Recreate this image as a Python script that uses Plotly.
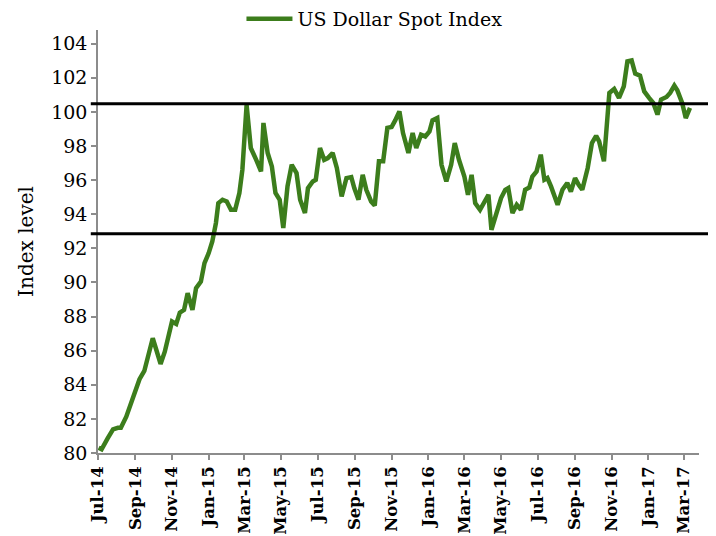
import plotly.graph_objects as go

# weekly-ish readings of the US Dollar Spot Index
dates = [
    "2014-07-02", "2014-07-07", "2014-07-17", "2014-07-26", "2014-08-03", "2014-08-08",
    "2014-08-17", "2014-08-25", "2014-09-01", "2014-09-08", "2014-09-16", "2014-09-23",
    "2014-09-30", "2014-10-06", "2014-10-13", "2014-10-20", "2014-10-27", "2014-11-01",
    "2014-11-08", "2014-11-14", "2014-11-21", "2014-11-27", "2014-12-05", "2014-12-11",
    "2014-12-19", "2014-12-25", "2015-01-01", "2015-01-07", "2015-01-13", "2015-01-17",
    "2015-01-24", "2015-01-31", "2015-02-07", "2015-02-14", "2015-02-21", "2015-02-26",
    "2015-03-05", "2015-03-12", "2015-03-21", "2015-03-29", "2015-04-02", "2015-04-09",
    "2015-04-16", "2015-04-22", "2015-04-29", "2015-05-05", "2015-05-12", "2015-05-19",
    "2015-05-27", "2015-06-02", "2015-06-10", "2015-06-15", "2015-06-23", "2015-06-28",
    "2015-07-05", "2015-07-12", "2015-07-18", "2015-07-26", "2015-08-02", "2015-08-10",
    "2015-08-18", "2015-08-26", "2015-08-31", "2015-09-07", "2015-09-14", "2015-09-20",
    "2015-09-28", "2015-10-04", "2015-10-11", "2015-10-18", "2015-10-25", "2015-11-01",
    "2015-11-07", "2015-11-14", "2015-11-20", "2015-11-29", "2015-12-06", "2015-12-12",
    "2015-12-20", "2015-12-27", "2016-01-03", "2016-01-08", "2016-01-16", "2016-01-23",
    "2016-01-31", "2016-02-08", "2016-02-14", "2016-02-21", "2016-03-01", "2016-03-07",
    "2016-03-13", "2016-03-19", "2016-03-27", "2016-04-03", "2016-04-10", "2016-04-15",
    "2016-04-22", "2016-05-01", "2016-05-08", "2016-05-13", "2016-05-20", "2016-05-27",
    "2016-06-03", "2016-06-10", "2016-06-17", "2016-06-22", "2016-06-29", "2016-07-06",
    "2016-07-12", "2016-07-17", "2016-07-23", "2016-08-03", "2016-08-11", "2016-08-19",
    "2016-08-25", "2016-09-01", "2016-09-07", "2016-09-13", "2016-09-22", "2016-09-29",
    "2016-10-06", "2016-10-11", "2016-10-19", "2016-10-28", "2016-11-05", "2016-11-13",
    "2016-11-21", "2016-11-27", "2016-12-04", "2016-12-10", "2016-12-18", "2016-12-25",
    "2017-01-02", "2017-01-09", "2017-01-16", "2017-01-22", "2017-01-31", "2017-02-06",
    "2017-02-13", "2017-02-18", "2017-02-26", "2017-03-04", "2017-03-11",
]
index_level = [
    80.31, 80.22, 80.86, 81.39, 81.48, 81.48,
    82.13, 82.92, 83.74, 84.33, 84.81, 85.75,
    86.73, 86.04, 85.22, 85.94, 86.83, 87.71,
    87.57, 88.23, 88.39, 89.37, 88.39, 89.67,
    90.05, 91.13, 91.72, 92.40, 93.48, 94.65,
    94.85, 94.75, 94.26, 94.26, 95.24, 96.61,
    100.40, 97.88, 97.19, 96.51, 99.35, 97.59,
    96.80, 95.24, 94.85, 93.19, 95.63, 96.90,
    96.41, 94.85, 94.07, 95.53, 95.92, 96.02,
    97.88, 97.19, 97.29, 97.59, 96.71, 95.04,
    96.12, 96.18, 95.53, 94.85, 96.31, 95.43,
    94.75, 94.51, 97.10, 97.10, 99.06, 99.11,
    99.50, 100.03, 98.76, 97.59, 98.76, 97.88,
    98.66, 98.56, 98.86, 99.50, 99.64, 96.90,
    95.92, 96.90, 98.17, 97.19, 96.21, 95.14,
    96.31, 94.65, 94.26, 94.75, 95.14, 93.09,
    93.97, 94.95, 95.43, 95.53, 94.07, 94.55,
    94.26, 95.43, 95.57, 96.21, 96.51, 97.49,
    96.02, 96.12, 95.63, 94.55, 95.43, 95.83,
    95.33, 96.12, 95.73, 95.43, 96.71, 98.17,
    98.60, 98.27, 97.10, 101.11, 101.34, 100.82,
    101.50, 102.96, 103.02, 102.24, 102.12, 101.20,
    100.82, 100.52, 99.84, 100.72, 100.87, 101.11,
    101.54, 101.26, 100.52, 99.64, 100.23,
]

# trading-range levels drawn as black lines
range_levels = [100.48, 92.85]

tick_dates = [
    "2014-07-01", "2014-09-01", "2014-11-01", "2015-01-01", "2015-03-01",
    "2015-05-01", "2015-07-01", "2015-09-01", "2015-11-01", "2016-01-01",
    "2016-03-01", "2016-05-01", "2016-07-01", "2016-09-01", "2016-11-01",
    "2017-01-01", "2017-03-01",
]
tick_labels = [
    "Jul-14", "Sep-14", "Nov-14", "Jan-15", "Mar-15", "May-15", "Jul-15",
    "Sep-15", "Nov-15", "Jan-16", "Mar-16", "May-16", "Jul-16", "Sep-16",
    "Nov-16", "Jan-17", "Mar-17",
]
y_ticks = list(range(80, 105, 2))

FONT = "DejaVu Serif"
GREEN = "#3c7d1c"
AXIS = "#8c8c8c"

fig = go.Figure()

fig.add_trace(go.Scatter(
    x=dates,
    y=index_level,
    mode="lines",
    name="US Dollar Spot Index",
    line=dict(color=GREEN, width=4.5),
))

for level in range_levels:
    fig.add_shape(
        type="line", xref="paper", yref="y",
        x0=-0.012, x1=1.03, y0=level, y1=level,
        line=dict(color="black", width=3),
    )

# page body adds an 8px margin, so the figure is 8px smaller than the window
fig.update_layout(
    width=708,
    height=528,
    margin=dict(l=90, r=17, t=22, b=83, autoexpand=False),
    paper_bgcolor="white",
    plot_bgcolor="white",
    font=dict(family=FONT, color="black", size=19),
    showlegend=True,
    legend=dict(
        orientation="h", x=0.46, xanchor="center", y=1.026, yanchor="middle",
        font=dict(family=FONT, size=19), itemwidth=46,
        bgcolor="rgba(0,0,0,0)",
    ),
)

fig.update_xaxes(
    type="date",
    range=["2014-07-01", "2017-03-26"],
    tickvals=tick_dates,
    ticktext=tick_labels,
    tickangle=-90,
    tickfont=dict(family=FONT, size=16.5, color="black", weight="bold"),
    showgrid=False,
    showline=True, linecolor=AXIS, linewidth=1.5,
    ticks="outside", tickcolor=AXIS, ticklen=5, tickwidth=1.5,
    zeroline=False,
)

fig.update_yaxes(
    range=[80, 104.8],
    tickvals=y_ticks,
    tickfont=dict(family=FONT, size=19, color="black"),
    title=dict(text="Index level", font=dict(family=FONT, size=20), standoff=12),
    showgrid=False,
    showline=True, linecolor=AXIS, linewidth=1.5,
    ticks="outside", tickcolor=AXIS, ticklen=5, tickwidth=1.5,
    zeroline=False,
)

fig.write_html("out.html")
